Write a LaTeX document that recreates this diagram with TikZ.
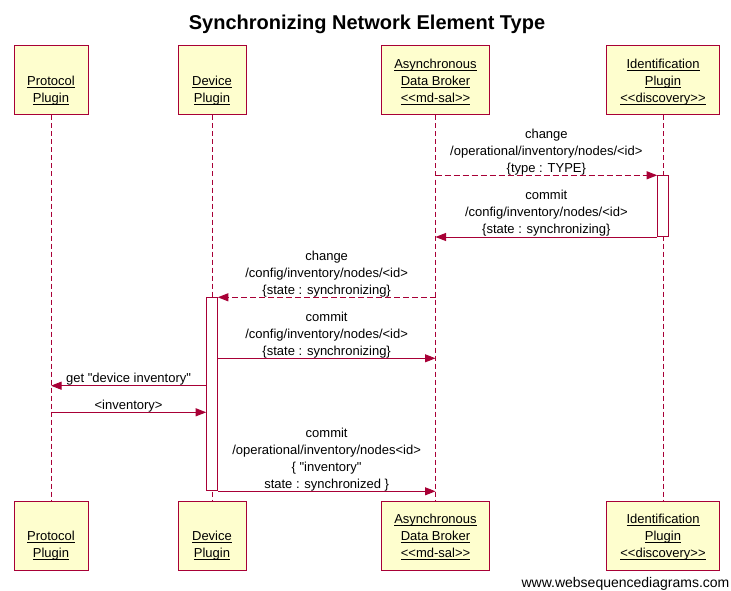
\documentclass[tikz,border=0pt]{standalone}
\usepackage{fontspec}
\setmainfont{Liberation Sans}[Ligatures=TeXOff]
\usetikzlibrary{positioning}
\usetikzlibrary{arrows.meta}
\definecolor{wsdred}{HTML}{A80036}
\definecolor{wsdyellow}{HTML}{FEFECE}
\newcommand{\ulin}[1]{\underline{\smash{#1}}}

\begin{document}
\begin{tikzpicture}[x=1pt, y=-1pt,
    participant/.style={rectangle, draw=wsdred, fill=wsdyellow, line width=1pt, minimum height=69pt, inner sep=0pt},
    participanttext/.style={anchor=south, inner sep=0pt, align=center, font=\fontsize{13}{17}\selectfont, yshift=10.9pt},
    lifeline/.style={draw=wsdred, line width=1pt, dash pattern=on 5pt off 3pt},
    activation/.style={rectangle, draw=wsdred, fill=white, line width=1pt, minimum width=10.6pt, inner sep=0pt, anchor=north},
    msg/.style={draw=wsdred, line width=1pt, -{Triangle[length=10.5pt,width=8pt]}},
    reply/.style={msg, dash pattern=on 6pt off 3pt},
    msgtext/.style={above, inner sep=0pt, align=center, text=black, font=\fontsize{13}{17}\selectfont},
  ]

  \useasboundingbox (0,0) rectangle (731,591);

  \node[anchor=base, font=\fontsize{20}{24}\selectfont\bfseries] (title) at (367,30) {Synchronizing Network Element Type};

  \node[participant, minimum width=74pt] (protoTop) at (51,80.5) {};
  \node[participant, minimum width=68pt] (deviceTop) at (212,80.5) {};
  \node[participant, minimum width=108pt] (brokerTop) at (435.5,80.5) {};
  \node[participant, minimum width=113pt] (identTop) at (663,80.5) {};
  \node[participant, minimum width=74pt, below=385pt of protoTop] (protoBot) {};
  \node[participant, minimum width=68pt, below=385pt of deviceTop] (deviceBot) {};
  \node[participant, minimum width=108pt, below=385pt of brokerTop] (brokerBot) {};
  \node[participant, minimum width=113pt, below=385pt of identTop] (identBot) {};

  \node[participanttext] (protoTopL) at (protoTop.south) {\ulin{Protocol}\\\ulin{Plugin}};
  \node[participanttext] (deviceTopL) at (deviceTop.south) {\ulin{Device}\\\ulin{Plugin}};
  \node[participanttext] (brokerTopL) at (brokerTop.south) {\ulin{Asynchronous}\\\ulin{Data Broker}\\\ulin{<<md-sal>>}};
  \node[participanttext] (identTopL) at (identTop.south) {\ulin{Identification}\\\ulin{Plugin}\\\ulin{<<discovery>>}};
  \node[participanttext] (protoBotL) at (protoBot.south) {\ulin{Protocol}\\\ulin{Plugin}};
  \node[participanttext] (deviceBotL) at (deviceBot.south) {\ulin{Device}\\\ulin{Plugin}};
  \node[participanttext] (brokerBotL) at (brokerBot.south) {\ulin{Asynchronous}\\\ulin{Data Broker}\\\ulin{<<md-sal>>}};
  \node[participanttext] (identBotL) at (identBot.south) {\ulin{Identification}\\\ulin{Plugin}\\\ulin{<<discovery>>}};

  \draw[lifeline] (protoTop) -- (protoBot);
  \draw[lifeline] (deviceTop) -- (deviceBot);
  \draw[lifeline] (brokerTop) -- (brokerBot);
  \draw[lifeline] (identTop) -- (identBot);

  \coordinate (M1) at (0,175.3);
  \coordinate (M3) at (0,297.3);
  \coordinate (M4) at (0,358.3);
  \coordinate (M5) at (0,385.7);
  \coordinate (M6) at (0,412.3);

  \node[activation, minimum height=60.7pt] (identAct) at (identTop |- M1) {};
  \node[activation, minimum height=193pt] (deviceAct) at (deviceTop |- M3) {};

  \coordinate (B1) at (brokerTop |- M1);
  \coordinate (B2) at (brokerTop |- identAct.south);
  \coordinate (B3) at (brokerTop |- M3);
  \coordinate (B4) at (brokerTop |- M4);
  \coordinate (B7) at (brokerTop |- deviceAct.south);
  \coordinate (P5) at (protoTop |- M5);
  \coordinate (P6) at (protoTop |- M6);
  \coordinate (D4) at (deviceAct.east |- M4);
  \coordinate (D5) at (deviceAct.west |- M5);
  \coordinate (D6) at (deviceAct.west |- M6);

  \draw[reply] (B1) -- node[msgtext] {change\\/operational/inventory/nodes/<id>\\\{type : TYPE\}} (identAct.north west);
  \draw[msg] (identAct.south west) -- node[msgtext] {commit\\/config/inventory/nodes/<id>\\\{state : synchronizing\}} (B2);
  \draw[reply] (B3) -- node[msgtext] {change\\/config/inventory/nodes/<id>\\\{state : synchronizing\}} (deviceAct.north east);
  \draw[msg] (D4) -- node[msgtext] {commit\\/config/inventory/nodes/<id>\\\{state : synchronizing\}} (B4);
  \draw[msg] (D5) -- node[msgtext] {get "device inventory"} (P5);
  \draw[msg] (P6) -- node[msgtext] {<inventory>} (D6);
  \draw[msg] (deviceAct.south east) -- node[msgtext] {commit\\/operational/inventory/nodes<id>\\\{ "inventory"\\state : synchronized \}} (B7);

  \node[anchor=base, font=\fontsize{14}{17}\selectfont] (watermark) at (625.5,587) {www.websequencediagrams.com};

\end{tikzpicture}
\end{document}
